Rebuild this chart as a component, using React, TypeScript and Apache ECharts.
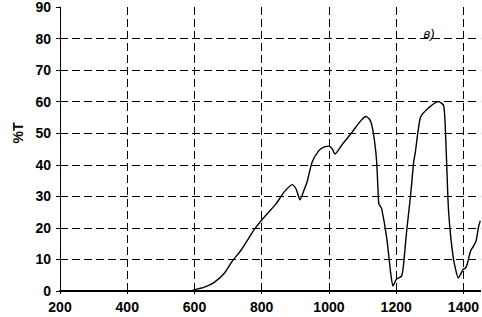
import React, { useEffect, useRef } from "react";
import * as echarts from "echarts";

const wavenumber = [200, 590, 600, 630, 660, 690, 712, 739, 778, 801, 843, 867, 891, 902, 914, 926, 935, 950, 970, 985, 1000, 1010, 1018, 1040, 1070, 1095, 1110, 1120, 1127, 1135, 1142, 1148, 1152, 1157, 1172, 1183, 1190, 1195, 1201, 1216, 1222, 1231, 1243, 1252, 1257, 1272, 1296, 1326, 1341, 1346, 1350, 1356, 1370, 1385, 1390, 1400, 1406, 1412, 1421, 1430, 1438, 1444, 1450];
const transmittance = [0, 0, 0.4, 1.2, 2.8, 5.8, 9.4, 13, 19.5, 22.6, 27.7, 31.4, 33.7, 32.4, 28.9, 32, 34.6, 40.9, 44.5, 45.6, 45.9, 45, 43.4, 46.5, 50.5, 54, 55.3, 54.5, 52.8, 48, 40.9, 27.7, 27, 26, 16.7, 6.3, 1.6, 2.5, 3.8, 4.7, 8.5, 18.9, 30.5, 40.9, 44, 55, 58, 60, 58.8, 52, 40.9, 25, 10.4, 4.1, 5, 7, 7.2, 8.8, 12.6, 14.2, 16, 19.8, 22.3];
const yTitle = "%T";
const panelLabel = "в)";

export default function App() {
  const ref = useRef<HTMLDivElement>(null);
  useEffect(() => {
    document.body.style.margin = "0";
    const chart = echarts.init(ref.current!, null, { renderer: "svg" });
    const gridLine = { show: true, showMaxLine: false, lineStyle: { color: "#000", width: 1, type: [8, 4] as any } };
    const labelStyle = { color: "#000", fontFamily: "Liberation Sans, Arial, sans-serif", fontWeight: "bold" as const, fontSize: 14, formatter: (v: number) => String(v) };
    chart.setOption({
      animation: false,
      backgroundColor: "#fff",
      grid: { left: 60, right: 0, top: 4, bottom: 26 },
      xAxis: {
        type: "value",
        min: 200,
        max: 1450,
        interval: 200,
        axisLine: { show: true, onZero: false, lineStyle: { color: "#000", width: 2 } },
        axisTick: { show: true, length: 3, lineStyle: { color: "#000" } },
        axisLabel: { ...labelStyle, margin: 9, showMaxLabel: false },
        splitLine: gridLine,
      },
      yAxis: {
        type: "value",
        min: 0,
        max: 90,
        interval: 10,
        axisLine: { show: true, lineStyle: { color: "#000", width: 1 } },
        axisTick: { show: true, length: 4, lineStyle: { color: "#000" } },
        axisLabel: { ...labelStyle, margin: 9 },
        splitLine: gridLine,
      },
      graphic: [
        {
          type: "text",
          x: 18,
          y: 133,
          rotation: Math.PI / 2,
          style: { text: yTitle, fill: "#000", font: "bold 14px Liberation Sans, Arial, sans-serif", align: "center", verticalAlign: "middle" },
        },
        {
          type: "text",
          x: 429,
          y: 33,
          style: { text: panelLabel, fill: "#000", font: "italic 13px Liberation Sans, Arial, sans-serif", align: "center", verticalAlign: "middle" },
        },
      ],
      series: [
        {
          type: "line",
          data: wavenumber.map((w, i) => [w, transmittance[i]]),
          showSymbol: false,
          smooth: 0.2,
          lineStyle: { color: "#000", width: 1.4 },
        },
      ],
    });
    return () => chart.dispose();
  }, []);
  return <div ref={ref} style={{ width: 482, height: 317, position: "absolute", left: 0, top: 0 }} />;
}
